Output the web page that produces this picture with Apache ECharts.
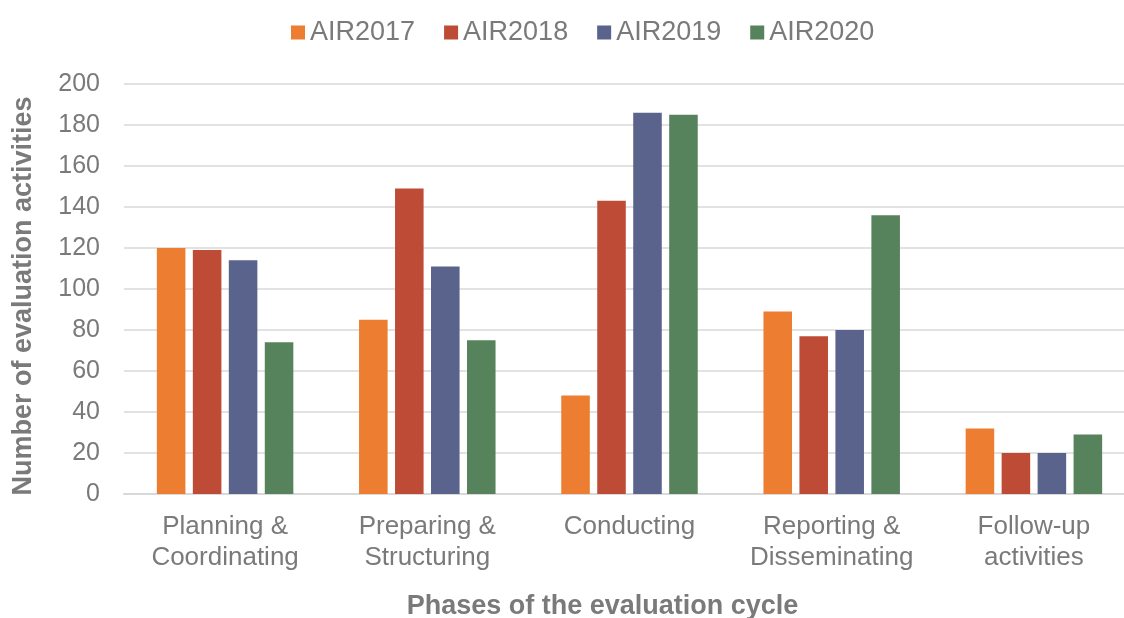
<!DOCTYPE html>
<html>
<head>
<meta charset="utf-8">
<script src="https://cdn.jsdelivr.net/npm/echarts@6/dist/echarts.min.js"></script>
<style>
  html, body { margin: 0; padding: 0; background: #fff; }
  #main { width: 1124px; height: 618px; }
</style>
</head>
<body>
<div id="main"></div>
<script>
var phases = ['Planning &\nCoordinating', 'Preparing &\nStructuring', 'Conducting', 'Reporting &\nDisseminating', 'Follow-up\nactivities'];
var air2017 = [120, 85, 48, 89, 32];
var air2018 = [119, 149, 143, 77, 20];
var air2019 = [114, 111, 186, 80, 20];
var air2020 = [74, 75, 185, 136, 29];

var chart = echarts.init(document.getElementById('main'));

function bar(name, data, color) {
    return {
        name: name,
        type: 'bar',
        data: data,
        barGap: '26%',
        barCategoryGap: '32.5%',
        itemStyle: { color: color }
    };
}

chart.setOption({
    animation: false,
    textStyle: { fontFamily: 'Liberation Sans, Arial, sans-serif' },
    legend: {
        top: 14,
        left: 286,
        itemWidth: 14,
        itemHeight: 14,
        itemGap: 29,
        icon: 'rect',
        textStyle: { color: '#7a7a7a', fontSize: 27 }
    },
    // plot area runs past the right edge, like the original
    grid: { left: 124, right: -11, top: 84, bottom: 124, outerBoundsMode: 'none', containLabel: false },
    xAxis: {
        type: 'category',
        data: phases,
        name: 'Phases of the evaluation cycle',
        nameLocation: 'middle',
        nameGap: 99,
        nameTextStyle: { color: '#7a7a7a', fontSize: 27, fontWeight: 'bold', padding: [0, 54, 0, 0] },
        axisLine: { lineStyle: { color: '#d9d9d9', width: 2 } },
        axisTick: { show: false },
        axisLabel: { color: '#7a7a7a', fontSize: 26, lineHeight: 31, margin: 17, interval: 0, hideOverlap: false }
    },
    yAxis: {
        type: 'value',
        min: 0,
        max: 200,
        interval: 20,
        name: 'Number of evaluation activities',
        nameLocation: 'middle',
        nameGap: 87,
        nameTextStyle: { color: '#7a7a7a', fontSize: 27, fontWeight: 'bold', padding: [0, 14, 0, 0] },
        axisLine: { show: false },
        axisTick: { show: false },
        axisLabel: { color: '#7a7a7a', fontSize: 25, margin: 24 },
        splitLine: { lineStyle: { color: '#d9d9d9', width: 1.5 } }
    },
    series: [
        bar('AIR2017', air2017, '#ED7D31'),
        bar('AIR2018', air2018, '#BE4B35'),
        bar('AIR2019', air2019, '#5A638C'),
        bar('AIR2020', air2020, '#56835C')
    ]
});
</script>
</body>
</html>
